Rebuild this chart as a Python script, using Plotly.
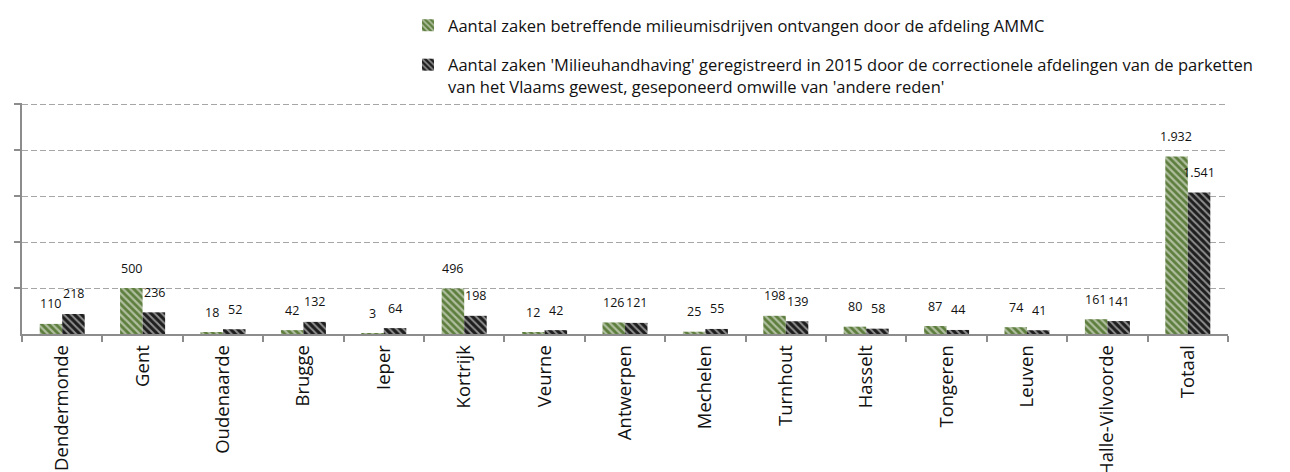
import plotly.graph_objects as go

categories = ["Dendermonde", "Gent", "Oudenaarde", "Brugge", "Ieper", "Kortrijk", "Veurne",
              "Antwerpen", "Mechelen", "Turnhout", "Hasselt", "Tongeren", "Leuven",
              "Halle-Vilvoorde", "Totaal"]
ammc = [110, 500, 18, 42, 3, 496, 12, 126, 25, 198, 80, 87, 74, 161, 1932]
geseponeerd = [218, 236, 52, 132, 64, 198, 42, 121, 55, 139, 58, 44, 41, 141, 1541]
gridvals = [500, 1000, 1500, 2000, 2500]

name_ammc = "Aantal zaken betreffende milieumisdrijven ontvangen door de afdeling AMMC"
name_sep = ("Aantal zaken 'Milieuhandhaving' geregistreerd in 2015 door de correctionele afdelingen van de parketten"
            "<br>van het Vlaams gewest, geseponeerd omwille van 'andere reden'")

GREEN = "#5E7E3E"
BLACK = "#1E1E1E"
FONT = "Open Sans"

fig = go.Figure()
fig.add_trace(go.Bar(
    x=categories, y=ammc, name=name_ammc, legendgroup="a",
    marker=dict(color=GREEN, line=dict(width=0),
                pattern=dict(shape="\\", bgcolor=GREEN, fgcolor="white", size=5, solidity=0.45)),
))
fig.add_trace(go.Bar(
    x=categories, y=geseponeerd, name=name_sep, legendgroup="b",
    marker=dict(color=BLACK, line=dict(width=0),
                pattern=dict(shape="\\", bgcolor=BLACK, fgcolor="white", size=5, solidity=0.4)),
))

def fmt(v):
    return f"{v:,}".replace(",", ".")

annotations = []
for c, v in zip(categories, ammc):
    annotations.append(dict(x=c, y=v, xref="x", yref="y", text=fmt(v), showarrow=False,
                            xshift=-11.5, yshift=20, yanchor="middle",
                            font=dict(size=12.5, color="#111", family=FONT)))
for c, v in zip(categories, geseponeerd):
    annotations.append(dict(x=c, y=v, xref="x", yref="y", text=fmt(v), showarrow=False,
                            xshift=11.5, yshift=20, yanchor="middle",
                            font=dict(size=12.5, color="#111", family=FONT)))

fig.update_layout(
    width=1290, height=472,
    margin=dict(l=14, r=70, t=95, b=146, autoexpand=False),
    paper_bgcolor="white", plot_bgcolor="white",
    barmode="group", bargap=0.44, bargroupgap=0,
    font=dict(family=FONT, size=14, color="#111"),
    showlegend=True,
    legend=dict(xref="container", yref="container", x=400 / 1290, y=1.0,
                xanchor="left", yanchor="top",
                orientation="v", valign="top", tracegroupgap=15,
                font=dict(size=16.5, family=FONT, color="#111"),
                bgcolor="rgba(0,0,0,0)", itemwidth=30),
    annotations=annotations,
    separators=",.",
)
fig.update_xaxes(
    type="category", showline=True, linecolor="#8C8C8C", linewidth=1.5,
    ticks="outside", tickson="boundaries", ticklen=6, tickcolor="#8C8C8C", tickwidth=1.5,
    tickangle=-90, tickfont=dict(size=18.5, family=FONT, color="#111"), showgrid=False,
    ticklabelstandoff=2, automargin=False,
)
fig.update_yaxes(
    range=[0, 2515], tickvals=gridvals, showticklabels=False,
    showline=True, linecolor="#8C8C8C",
    linewidth=1.5, ticks="outside", ticklen=6, tickcolor="#8C8C8C", tickwidth=1.5,
    showgrid=True, gridcolor="#A6A6A6", griddash="6px,3px", gridwidth=1, zeroline=False,
    automargin=False,
)

fig.write_html("out.html")
